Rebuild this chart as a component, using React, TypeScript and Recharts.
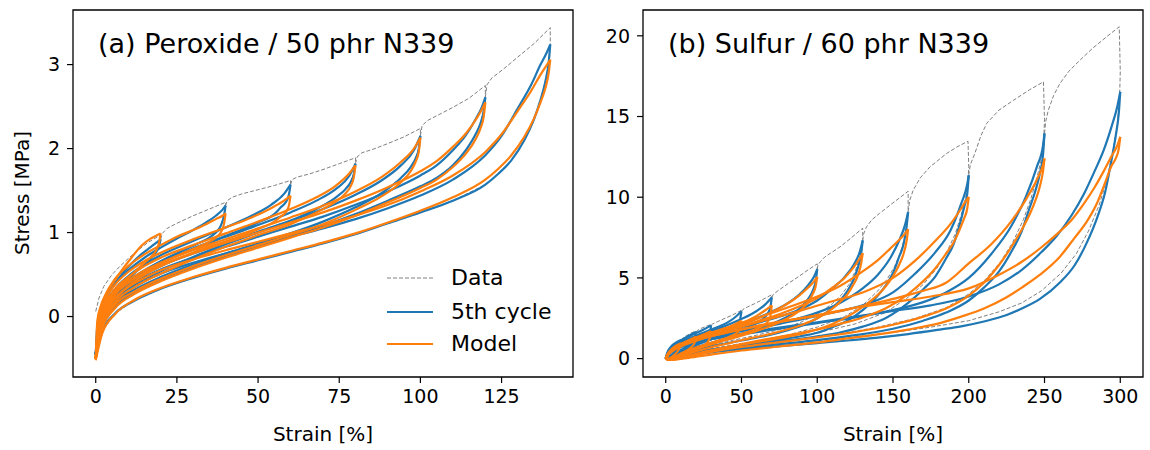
import { LineChart, Line, XAxis, YAxis, ReferenceArea } from 'recharts';

const FONT = '"DejaVu Sans", sans-serif';
const BLUE = '#1f77b4';
const ORANGE = '#ff7f0e';
const GRAY = '#808080';

// rows are [strain %, 5th cycle stress MPa, model stress MPa]
// ---------- (a) Peroxide / 50 phr N339 ----------
const a20Up = [[0, -0.45, -0.5], [0.5, -0.1, -0.05], [1.5, 0.08, 0.12], [3, 0.22, 0.26], [5, 0.34, 0.38], [8, 0.5, 0.55], [11, 0.63, 0.7], [14, 0.74, 0.84], [17, 0.83, 0.93], [19, 0.89, 0.97], [20, 0.92, 0.99]];
const a20Dn = [[20, 0.92, 0.99], [19.5, 0.84, 0.88], [18.5, 0.76, 0.78], [17, 0.69, 0.71], [15, 0.62, 0.64], [12, 0.52, 0.53], [9, 0.4, 0.42], [6, 0.26, 0.28], [3, 0.05, 0.06], [1, -0.2, -0.22], [0, -0.45, -0.5]];
const a40Up = [[0, -0.45, -0.5], [1, -0.05, 0], [3, 0.2, 0.25], [6, 0.4, 0.45], [10, 0.55, 0.6], [15, 0.7, 0.74], [20, 0.82, 0.85], [25, 0.93, 0.95], [30, 1.03, 1.03], [34, 1.12, 1.1], [37, 1.2, 1.16], [39, 1.27, 1.2], [40, 1.32, 1.23]];
const a40Dn = [[40, 1.32, 1.23], [39.5, 1.2, 1.1], [38.5, 1.08, 1.0], [37, 1.0, 0.94], [35, 0.94, 0.89], [31, 0.86, 0.82], [26, 0.77, 0.74], [20, 0.66, 0.63], [15, 0.55, 0.52], [10, 0.42, 0.4], [6, 0.28, 0.26], [3, 0.08, 0.06], [1, -0.16, -0.19], [0, -0.45, -0.5]];
const a60Up = [[0, -0.45, -0.5], [1, -0.1, -0.05], [3, 0.15, 0.2], [6, 0.33, 0.38], [10, 0.48, 0.53], [15, 0.62, 0.66], [20, 0.73, 0.76], [30, 0.9, 0.92], [40, 1.06, 1.06], [48, 1.2, 1.18], [54, 1.33, 1.29], [58, 1.46, 1.38], [60, 1.57, 1.44]];
const a60Dn = [[60, 1.57, 1.44], [59.5, 1.45, 1.32], [58.5, 1.36, 1.24], [57, 1.3, 1.19], [55, 1.22, 1.13], [50, 1.12, 1.04], [42, 0.99, 0.92], [34, 0.87, 0.82], [26, 0.74, 0.7], [18, 0.59, 0.56], [12, 0.45, 0.42], [7, 0.28, 0.25], [3, 0.06, 0.03], [1, -0.17, -0.2], [0, -0.45, -0.5]];
const a80Up = [[0, -0.45, -0.5], [1, -0.15, -0.1], [3, 0.1, 0.15], [6, 0.28, 0.33], [10, 0.42, 0.47], [15, 0.55, 0.6], [20, 0.65, 0.7], [30, 0.81, 0.85], [40, 0.95, 0.99], [50, 1.09, 1.13], [60, 1.24, 1.28], [68, 1.38, 1.42], [74, 1.52, 1.56], [78, 1.67, 1.7], [80, 1.82, 1.8]];
const a80Dn = [[80, 1.82, 1.8], [79.5, 1.7, 1.66], [78.5, 1.6, 1.55], [77, 1.52, 1.47], [74, 1.42, 1.37], [68, 1.28, 1.24], [60, 1.14, 1.1], [50, 1.0, 0.97], [40, 0.86, 0.83], [30, 0.71, 0.68], [20, 0.54, 0.51], [12, 0.38, 0.35], [6, 0.2, 0.17], [2, -0.07, -0.1], [0, -0.45, -0.5]];
const a100Up = [[0, -0.45, -0.5], [1, -0.15, -0.1], [3, 0.08, 0.13], [6, 0.25, 0.3], [10, 0.38, 0.43], [15, 0.5, 0.55], [20, 0.6, 0.64], [30, 0.75, 0.79], [40, 0.88, 0.92], [50, 1.01, 1.05], [60, 1.14, 1.18], [70, 1.28, 1.32], [80, 1.45, 1.49], [88, 1.62, 1.66], [94, 1.8, 1.84], [98, 1.98, 2.0], [100, 2.15, 2.13]];
const a100Dn = [[100, 2.15, 2.13], [99.5, 2.0, 1.96], [98.5, 1.88, 1.84], [97, 1.78, 1.73], [94, 1.65, 1.6], [88, 1.47, 1.43], [80, 1.3, 1.27], [70, 1.13, 1.1], [60, 0.99, 0.97], [50, 0.87, 0.85], [40, 0.75, 0.73], [30, 0.62, 0.6], [20, 0.47, 0.45], [12, 0.32, 0.3], [6, 0.16, 0.14], [2, -0.1, -0.12], [0, -0.45, -0.5]];
const a120Up = [[0, -0.45, -0.5], [1, -0.18, -0.12], [3, 0.05, 0.1], [6, 0.22, 0.27], [10, 0.35, 0.4], [15, 0.47, 0.52], [20, 0.56, 0.61], [30, 0.7, 0.75], [40, 0.83, 0.88], [50, 0.95, 1.0], [60, 1.07, 1.12], [70, 1.19, 1.24], [80, 1.33, 1.38], [90, 1.49, 1.54], [100, 1.68, 1.73], [105, 1.8, 1.85], [110, 1.98, 2.02], [114, 2.16, 2.18], [117, 2.35, 2.34], [119, 2.5, 2.47], [120, 2.61, 2.55]];
const a120Dn = [[120, 2.61, 2.55], [119.5, 2.45, 2.38], [118.5, 2.3, 2.24], [117, 2.17, 2.11], [114, 1.98, 1.94], [110, 1.8, 1.78], [105, 1.65, 1.63], [100, 1.55, 1.53], [90, 1.38, 1.36], [80, 1.22, 1.2], [70, 1.08, 1.06], [60, 0.96, 0.94], [50, 0.84, 0.82], [40, 0.72, 0.7], [30, 0.59, 0.57], [20, 0.44, 0.42], [12, 0.29, 0.27], [6, 0.12, 0.1], [2, -0.12, -0.14], [0, -0.45, -0.5]];
const a140Up = [[0, -0.45, -0.5], [1, -0.2, -0.15], [3, 0.02, 0.06], [6, 0.18, 0.22], [10, 0.3, 0.35], [15, 0.42, 0.46], [20, 0.51, 0.55], [30, 0.64, 0.68], [40, 0.75, 0.79], [50, 0.85, 0.89], [60, 0.95, 0.99], [70, 1.05, 1.09], [80, 1.16, 1.2], [90, 1.29, 1.33], [100, 1.44, 1.49], [110, 1.63, 1.68], [120, 1.92, 1.96], [125, 2.15, 2.17], [130, 2.48, 2.45], [134, 2.75, 2.68], [137, 3.0, 2.88], [139, 3.15, 3.0], [140, 3.24, 3.06]];
const a140Dn = [[140, 3.24, 3.06], [139.5, 3.02, 2.9], [138.5, 2.8, 2.72], [137, 2.58, 2.55], [135, 2.35, 2.36], [132, 2.1, 2.14], [128, 1.86, 1.92], [124, 1.7, 1.76], [120, 1.57, 1.63], [110, 1.38, 1.42], [100, 1.24, 1.26], [90, 1.11, 1.12], [80, 0.98, 0.99], [70, 0.87, 0.88], [60, 0.77, 0.78], [50, 0.67, 0.68], [40, 0.57, 0.58], [30, 0.46, 0.47], [20, 0.33, 0.34], [12, 0.19, 0.2], [6, 0.04, 0.03], [2, -0.18, -0.2], [0, -0.47, -0.52]];

// first loading up to each new maximum strain (measured data), [strain, stress]
const aEnv20 = [[0, 0.06], [1, 0.22], [2.5, 0.36], [5, 0.5], [7.5, 0.6], [10, 0.69], [13, 0.79], [16, 0.88], [20, 0.97]];
const aEnv40 = [[20, 0.92], [20.5, 0.99], [22, 1.05], [25, 1.11], [30, 1.2], [35, 1.28], [40, 1.36]];
const aEnv60 = [[40, 1.32], [40.5, 1.38], [42, 1.42], [45, 1.46], [50, 1.51], [55, 1.56], [60, 1.62]];
const aEnv80 = [[60, 1.57], [60.5, 1.63], [62, 1.66], [66, 1.7], [70, 1.75], [75, 1.82], [80, 1.89]];
const aEnv100 = [[80, 1.82], [80.5, 1.9], [82, 1.95], [86, 2.0], [90, 2.06], [95, 2.14], [100, 2.24]];
const aEnv120 = [[100, 2.15], [100.5, 2.27], [102, 2.33], [106, 2.41], [110, 2.49], [115, 2.6], [120, 2.75]];
const aEnv140 = [[120, 2.61], [120.5, 2.76], [122, 2.84], [126, 2.96], [130, 3.09], [135, 3.25], [140, 3.44]];

// ---------- (b) Sulfur / 60 phr N339 ----------
const b10Up = [[0, 0, 0], [1, 0.35, 0.25], [3, 0.68, 0.5], [6, 0.95, 0.75], [10, 1.15, 0.95]];
const b10Dn = [[10, 1.15, 0.95], [9, 0.85, 0.65], [7, 0.55, 0.35], [4, 0.25, 0.1], [2, 0.1, 0], [0, 0, 0]];
const b20Up = [[0, 0, 0], [1, 0.3, 0.2], [3, 0.6, 0.45], [6, 0.88, 0.68], [10, 1.12, 0.9], [15, 1.4, 1.12], [20, 1.65, 1.35]];
const b20Dn = [[20, 1.65, 1.35], [19, 1.25, 0.98], [17, 0.98, 0.72], [14, 0.75, 0.5], [10, 0.52, 0.3], [6, 0.3, 0.1], [3, 0.12, -0.05], [0, 0, 0]];
const b30Up = [[0, 0, 0], [2, 0.45, 0.3], [5, 0.8, 0.6], [10, 1.1, 0.88], [15, 1.35, 1.1], [20, 1.58, 1.3], [25, 1.8, 1.5], [30, 2.06, 1.7]];
const b30Dn = [[30, 2.06, 1.7], [29, 1.6, 1.25], [27, 1.3, 0.95], [24, 1.08, 0.75], [20, 0.88, 0.57], [15, 0.65, 0.35], [10, 0.45, 0.15], [5, 0.22, -0.03], [2, 0.08, -0.06], [0, 0, 0]];
const b50Up = [[0, 0, 0], [2, 0.4, 0.3], [5, 0.72, 0.55], [10, 1.0, 0.82], [15, 1.22, 1.02], [20, 1.42, 1.2], [30, 1.8, 1.55], [40, 2.2, 1.9], [45, 2.5, 2.1], [50, 2.93, 2.35]];
const b50Dn = [[50, 2.93, 2.35], [49, 2.4, 1.85], [47, 2.05, 1.6], [44, 1.8, 1.43], [40, 1.6, 1.28], [35, 1.4, 1.12], [30, 1.2, 0.96], [25, 1.02, 0.8], [20, 0.84, 0.62], [15, 0.65, 0.43], [10, 0.45, 0.22], [5, 0.22, 0], [2, 0.08, -0.05], [0, 0, 0]];
const b70Up = [[0, 0, 0], [2, 0.38, 0.28], [5, 0.68, 0.52], [10, 0.95, 0.78], [20, 1.35, 1.15], [30, 1.7, 1.48], [40, 2.05, 1.82], [50, 2.45, 2.2], [60, 2.95, 2.65], [65, 3.3, 2.95], [70, 3.79, 3.3]];
const b70Dn = [[70, 3.79, 3.3], [69, 3.15, 2.6], [67, 2.75, 2.25], [64, 2.45, 2.03], [60, 2.2, 1.85], [55, 1.98, 1.68], [50, 1.8, 1.53], [40, 1.5, 1.25], [30, 1.2, 0.98], [20, 0.9, 0.68], [10, 0.52, 0.3], [5, 0.28, 0.05], [2, 0.1, -0.05], [0, 0, 0]];
const b100Up = [[0, 0, 0], [2, 0.35, 0.28], [5, 0.62, 0.5], [10, 0.88, 0.75], [20, 1.25, 1.1], [30, 1.55, 1.42], [40, 1.85, 1.74], [50, 2.15, 2.08], [60, 2.5, 2.45], [70, 2.9, 2.88], [80, 3.4, 3.38], [88, 3.95, 3.9], [94, 4.55, 4.4], [98, 5.1, 4.8], [100, 5.55, 5.06]];
const b100Dn = [[100, 5.55, 5.06], [99, 4.8, 4.5], [97, 4.2, 4.0], [94, 3.7, 3.5], [90, 3.25, 3.1], [85, 2.85, 2.75], [80, 2.58, 2.48], [70, 2.15, 2.05], [60, 1.82, 1.72], [50, 1.52, 1.42], [40, 1.25, 1.15], [30, 0.98, 0.88], [20, 0.72, 0.58], [10, 0.42, 0.22], [5, 0.22, 0.02], [2, 0.08, -0.05], [0, 0, 0]];
const b130Up = [[0, 0, 0], [2, 0.33, 0.3], [5, 0.6, 0.56], [10, 0.85, 0.82], [20, 1.2, 1.18], [30, 1.48, 1.48], [45, 1.85, 1.88], [60, 2.2, 2.3], [75, 2.6, 2.75], [90, 3.1, 3.3], [100, 3.6, 3.75], [110, 4.35, 4.4], [118, 5.05, 5.0], [124, 5.8, 5.65], [128, 6.6, 6.2], [130, 7.32, 6.53]];
const b130Dn = [[130, 7.32, 6.53], [129, 6.5, 5.9], [127, 5.7, 5.2], [124, 4.9, 4.6], [120, 4.2, 4.0], [115, 3.6, 3.5], [110, 3.15, 3.1], [100, 2.5, 2.5], [90, 2.05, 2.1], [80, 1.75, 1.8], [70, 1.5, 1.55], [60, 1.3, 1.34], [50, 1.12, 1.14], [40, 0.94, 0.92], [30, 0.76, 0.7], [20, 0.56, 0.45], [10, 0.32, 0.15], [5, 0.16, 0], [2, 0.05, -0.05], [0, 0, 0]];
const b160Up = [[0, 0, 0], [2, 0.32, 0.32], [5, 0.58, 0.6], [10, 0.82, 0.88], [20, 1.15, 1.28], [30, 1.38, 1.62], [45, 1.65, 2.05], [60, 1.9, 2.5], [80, 2.3, 3.15], [100, 2.85, 3.85], [115, 3.45, 4.5], [130, 4.35, 5.4], [140, 5.2, 6.1], [148, 6.2, 6.8], [154, 7.3, 7.35], [158, 8.3, 7.75], [160, 9.09, 8.02]];
const b160Dn = [[160, 9.09, 8.02], [159, 8.2, 7.3], [157, 7.1, 6.5], [154, 6.3, 5.8], [150, 5.3, 5.1], [145, 4.5, 4.45], [140, 3.9, 3.95], [130, 3.0, 3.2], [120, 2.35, 2.6], [110, 1.95, 2.15], [100, 1.6, 1.8], [90, 1.4, 1.55], [80, 1.24, 1.35], [70, 1.1, 1.18], [60, 0.97, 1.02], [50, 0.84, 0.86], [40, 0.7, 0.68], [30, 0.55, 0.48], [20, 0.4, 0.25], [10, 0.22, 0], [5, 0.1, -0.06], [2, 0.04, -0.04], [0, 0, 0]];
const b200Up = [[0, 0, 0], [2, 0.3, 0.32], [5, 0.55, 0.58], [10, 0.78, 0.84], [20, 1.1, 1.2], [35, 1.42, 1.6], [50, 1.7, 1.98], [70, 2.05, 2.5], [90, 2.45, 3.0], [110, 2.85, 3.55], [130, 3.3, 4.1], [150, 4.1, 5.0], [165, 5.3, 6.1], [178, 6.6, 7.3], [188, 7.95, 8.35], [195, 9.6, 9.3], [199, 10.8, 9.9], [200, 11.36, 10.02]];
const b200Dn = [[200, 11.36, 10.02], [199, 10.2, 9.3], [197, 9.4, 8.7], [194, 8.3, 8.0], [190, 7.1, 7.2], [185, 6.2, 6.5], [178, 5.1, 5.6], [170, 4.3, 4.8], [160, 3.45, 4.0], [145, 2.5, 3.1], [130, 1.98, 2.55], [115, 1.62, 2.15], [100, 1.38, 1.8], [85, 1.18, 1.52], [70, 1.0, 1.26], [55, 0.84, 1.0], [40, 0.67, 0.72], [25, 0.47, 0.42], [12, 0.26, 0.1], [5, 0.12, -0.04], [2, 0.04, -0.05], [0, 0, 0]];
const b250Up = [[0, 0, 0], [2, 0.3, 0.32], [5, 0.52, 0.56], [10, 0.72, 0.8], [20, 1.0, 1.15], [35, 1.28, 1.5], [50, 1.5, 1.82], [75, 1.85, 2.3], [100, 2.2, 2.65], [125, 2.55, 3.15], [150, 3.0, 3.7], [170, 3.5, 4.2], [185, 4.1, 4.7], [200, 5.0, 5.9], [215, 6.5, 7.1], [228, 8.2, 8.5], [238, 10.1, 9.9], [245, 11.9, 11.1], [249, 13.2, 12.0], [250, 13.95, 12.4]];
const b250Dn = [[250, 13.95, 12.4], [249, 12.6, 11.6], [247, 11.5, 10.7], [244, 10.4, 9.8], [240, 9.3, 8.9], [235, 7.9, 8.0], [228, 6.6, 6.9], [220, 5.4, 5.8], [210, 4.4, 4.7], [200, 3.6, 3.9], [185, 2.85, 3.1], [170, 2.35, 2.6], [150, 1.85, 2.1], [125, 1.45, 1.65], [100, 1.15, 1.32], [75, 0.9, 1.02], [50, 0.66, 0.72], [30, 0.45, 0.42], [15, 0.26, 0.12], [5, 0.1, -0.05], [2, 0.03, -0.05], [0, 0, 0]];
const b300Up = [[0, 0, 0], [2, 0.3, 0.32], [5, 0.5, 0.56], [10, 0.72, 0.8], [20, 1.0, 1.15], [35, 1.3, 1.5], [50, 1.55, 1.8], [75, 1.92, 2.25], [100, 2.25, 2.7], [125, 2.6, 3.15], [150, 2.95, 3.5], [175, 3.3, 3.85], [200, 3.85, 4.35], [220, 4.6, 5.2], [235, 5.5, 6.0], [248, 6.6, 6.9], [258, 7.6, 7.7], [268, 8.9, 8.6], [276, 10.2, 9.6], [283, 11.6, 10.6], [289, 12.9, 11.6], [294, 14.3, 12.5], [298, 15.6, 13.2], [300, 16.53, 13.74]];
const b300Dn = [[300, 16.53, 13.74], [299, 15.2, 13.0], [297, 13.8, 12.4], [294, 12.2, 11.9], [290, 10.3, 10.9], [285, 8.8, 9.7], [278, 7.2, 8.5], [270, 5.8, 7.5], [260, 4.7, 6.3], [247, 3.7, 5.2], [235, 3.1, 4.4], [225, 2.7, 3.8], [210, 2.3, 3.1], [195, 2.0, 2.6], [181, 1.8, 2.2], [160, 1.52, 1.8], [140, 1.3, 1.5], [120, 1.12, 1.25], [100, 0.96, 1.0], [75, 0.77, 0.75], [50, 0.57, 0.5], [30, 0.38, 0.25], [15, 0.2, 0.05], [5, 0.07, -0.06], [2, 0.02, -0.04], [0, 0, 0]];

const bEnv10 = [[0, 0], [1, 0.25], [2.5, 0.5], [5, 0.78], [7.5, 1.0], [10, 1.2]];
const bEnv20 = [[10, 1.15], [11, 1.25], [13, 1.38], [16, 1.55], [20, 1.72]];
const bEnv30 = [[20, 1.65], [21, 1.75], [23, 1.86], [26, 1.98], [30, 2.12]];
const bEnv50 = [[30, 2.06], [31, 2.15], [34, 2.28], [38, 2.45], [44, 2.7], [50, 2.99]];
const bEnv70 = [[50, 2.93], [51, 3.05], [54, 3.2], [58.8, 3.41], [64, 3.66], [70, 3.96]];
const bEnv100 = [[70, 3.79], [71, 3.98], [74, 4.2], [80.8, 4.65], [88, 5.1], [94, 5.5], [100, 5.87]];
const bEnv130 = [[100, 5.55], [100.5, 5.8], [102, 6.0], [105, 6.3], [115, 6.92], [122, 7.45], [130, 8.08]];
const bEnv160 = [[130, 7.32], [130.5, 7.7], [132.5, 8.16], [136, 8.6], [141, 8.99], [150, 9.65], [160, 10.37]];
const bEnv200 = [[160, 9.09], [161, 9.8], [163.3, 10.43], [168, 11.2], [174.4, 11.88], [185.4, 12.71], [192, 13.1], [199.5, 13.47]];
const bEnv250 = [[200, 11.36], [201, 12.0], [204, 12.71], [208, 13.8], [211.8, 14.57], [220, 15.4], [229.4, 16.0], [240, 16.65], [249.3, 17.15]];
const bEnv300 = [[250, 13.95], [250.8, 14.7], [252.5, 15.39], [256, 16.3], [260.2, 17.05], [266, 17.8], [273.4, 18.49], [282, 19.25], [291, 19.94], [299.3, 20.56]];

// first unloading of the measured data after the drop at each peak, [strain, stress]
const bFirst130 = [[130, 7.4], [129.5, 6.9], [128, 6.2], [125, 5.4], [121, 4.6], [116, 3.95], [110, 3.4], [100, 2.75], [88, 2.2], [75, 1.8], [60, 1.45], [40, 1.05], [20, 0.62], [6, 0.2], [0, 0]];
const bFirst160 = [[160, 9.2], [159.5, 8.5], [158, 7.6], [155, 6.6], [151, 5.7], [146, 4.9], [140, 4.2], [130, 3.3], [118, 2.6], [100, 1.95], [80, 1.45], [60, 1.1], [40, 0.78], [20, 0.45], [6, 0.15], [0, 0]];
const bFirst200 = [[200, 11.9], [199.5, 11.0], [198, 10.0], [195, 8.9], [191, 7.7], [186, 6.7], [179, 5.6], [170, 4.6], [160, 3.8], [145, 2.85], [125, 2.15], [100, 1.6], [75, 1.2], [50, 0.85], [25, 0.48], [8, 0.15], [0, 0]];
const bFirst250 = [[250, 14.8], [249.5, 13.6], [248, 12.4], [245, 11.2], [241, 9.9], [236, 8.6], [229, 7.2], [221, 6.0], [211, 4.9], [200, 4.0], [185, 3.15], [165, 2.5], [140, 1.95], [110, 1.45], [80, 1.05], [50, 0.7], [25, 0.4], [8, 0.12], [0, 0]];
const bFirst300 = [[300, 17.8], [299.5, 16.0], [298, 14.5], [295, 12.8], [291, 11.0], [286, 9.5], [279, 7.9], [271, 6.5], [261, 5.3], [248, 4.2], [235, 3.45], [220, 2.9], [200, 2.35], [175, 1.95], [150, 1.62], [120, 1.3], [90, 1.02], [60, 0.72], [30, 0.4], [10, 0.12], [0, 0]];

const aLoops = [
  [aEnv20, a20Up, a20Dn], [aEnv40, a40Up, a40Dn], [aEnv60, a60Up, a60Dn], [aEnv80, a80Up, a80Dn],
  [aEnv100, a100Up, a100Dn], [aEnv120, a120Up, a120Dn], [aEnv140, a140Up, a140Dn],
];
const bLoops = [
  [bEnv10, b10Up, b10Dn], [bEnv20, b20Up, b20Dn], [bEnv30, b30Up, b30Dn], [bEnv50, b50Up, b50Dn],
  [bEnv70, b70Up, b70Dn], [bEnv100, b100Up, b100Dn], [bEnv130, b130Up, b130Dn, bFirst130],
  [bEnv160, b160Up, b160Dn, bFirst160], [bEnv200, b200Up, b200Dn, bFirst200],
  [bEnv250, b250Up, b250Dn, bFirst250], [bEnv300, b300Up, b300Dn, bFirst300],
];

const aXTicks = [0, 25, 50, 75, 100, 125];
const aYTicks = [0, 1, 2, 3];
const bXTicks = [0, 50, 100, 150, 200, 250, 300];
const bYTicks = [0, 5, 10, 15, 20];

function toPts(rows: number[][], col: number) {
  return rows.map((r) => ({ x: r[0], y: r[col] }));
}

// each branch is drawn with strain increasing so a monotone curve can smooth it
function branchLines(loops: any[], col: number, color: string, prefix: string) {
  const out: any[] = [];
  loops.forEach(([, up, dn]: any, i: number) => {
    [up, [...dn].reverse()].forEach((rows: number[][], j: number) => {
      out.push(
        <Line
          key={`${prefix}${i}-${j}`}
          data={toPts(rows, col)}
          dataKey="y"
          type="monotoneX"
          stroke={color}
          strokeWidth={2.2}
          dot={false}
          activeDot={false}
          isAnimationActive={false}
        />
      );
    });
  });
  return out;
}

function Panel({ loops, xDomain, yDomain, xTicks, yTicks, left, width, marginLeft, yAxisWidth, marginRight }: any) {
  const tick = { fontSize: 19, fill: '#000', fontFamily: FONT };
  return (
    <div style={{ position: 'absolute', left, top: 0 }}>
      <LineChart width={width} height={450} margin={{ top: 10, right: marginRight, bottom: 7, left: marginLeft }}>
        <XAxis
          type="number"
          dataKey="x"
          domain={xDomain}
          ticks={xTicks}
          allowDataOverflow
          axisLine={false}
          tickLine={{ stroke: '#000', strokeWidth: 1.2 }}
          tickSize={6}
          tickMargin={7}
          tick={tick}
          height={66}
        />
        <YAxis
          type="number"
          domain={yDomain}
          ticks={yTicks}
          allowDataOverflow
          axisLine={false}
          tickLine={{ stroke: '#000', strokeWidth: 1.2 }}
          tickSize={6}
          tickMargin={7}
          tick={tick}
          width={yAxisWidth}
        />
        {loops.map(([env, , dn, first]: any, i: number) => (
          <Line
            key={`d${i}`}
            data={[...toPts(env, 1), ...toPts(first || dn, 1)]}
            dataKey="y"
            type="linear"
            stroke={GRAY}
            strokeWidth={1}
            strokeDasharray="4 2"
            dot={false}
            activeDot={false}
            isAnimationActive={false}
          />
        ))}
        {branchLines(loops, 1, BLUE, 'b')}
        {branchLines(loops, 2, ORANGE, 'm')}
        <ReferenceArea
          x1={xDomain[0]}
          x2={xDomain[1]}
          y1={yDomain[0]}
          y2={yDomain[1]}
          fill="none"
          fillOpacity={0}
          stroke="#000"
          strokeWidth={1.3}
          ifOverflow="visible"
        />
      </LineChart>
    </div>
  );
}

const text = (extra: any) => ({
  position: 'absolute' as const,
  fontFamily: FONT,
  color: '#000',
  lineHeight: 1,
  whiteSpace: 'nowrap' as const,
  ...extra,
});

function LegendRow({ top, label, color, dashed }: { top: number; label: string; color: string; dashed?: boolean }) {
  return (
    <>
      <svg style={{ position: 'absolute', left: 387, top: top - 5 }} width={47} height={10}>
        <line x1={0} y1={5} x2={46} y2={5} stroke={color} strokeWidth={dashed ? 1 : 2.2} strokeDasharray={dashed ? '4 2' : undefined} />
      </svg>
      <div style={text({ left: 451, top: top - 11, fontSize: 22 })}>{label}</div>
    </>
  );
}

export default function App() {
  return (
    <div style={{ position: 'absolute', left: 0, top: 0, width: 1150, height: 450, background: '#fff', overflow: 'hidden' }}>
      <Panel
        loops={aLoops}
        xDomain={[-7, 147]}
        yDomain={[-0.72, 3.65]}
        xTicks={aXTicks}
        yTicks={aYTicks}
        left={0}
        width={590}
        marginLeft={13}
        yAxisWidth={60}
        marginRight={17}
      />
      <Panel
        loops={bLoops}
        xDomain={[-15, 315]}
        yDomain={[-1.14, 21.6]}
        xTicks={bXTicks}
        yTicks={bYTicks}
        left={580}
        width={570}
        marginLeft={13}
        yAxisWidth={50}
        marginRight={7}
      />
      <div style={text({ left: 98, top: 30, fontSize: 27 })}>(a) Peroxide / 50 phr N339</div>
      <div style={text({ left: 668, top: 30, fontSize: 27 })}>(b) Sulfur / 60 phr N339</div>
      <div style={text({ left: 22, top: 193, fontSize: 20, transform: 'translate(-50%, -50%) rotate(-90deg)' })}>Stress [MPa]</div>
      <div style={text({ left: 323, top: 424, fontSize: 20, transform: 'translateX(-50%)' })}>Strain [%]</div>
      <div style={text({ left: 893, top: 424, fontSize: 20, transform: 'translateX(-50%)' })}>Strain [%]</div>
      <LegendRow top={278} label="Data" color={GRAY} dashed />
      <LegendRow top={311.5} label="5th cycle" color={BLUE} />
      <LegendRow top={344} label="Model" color={ORANGE} />
    </div>
  );
}
